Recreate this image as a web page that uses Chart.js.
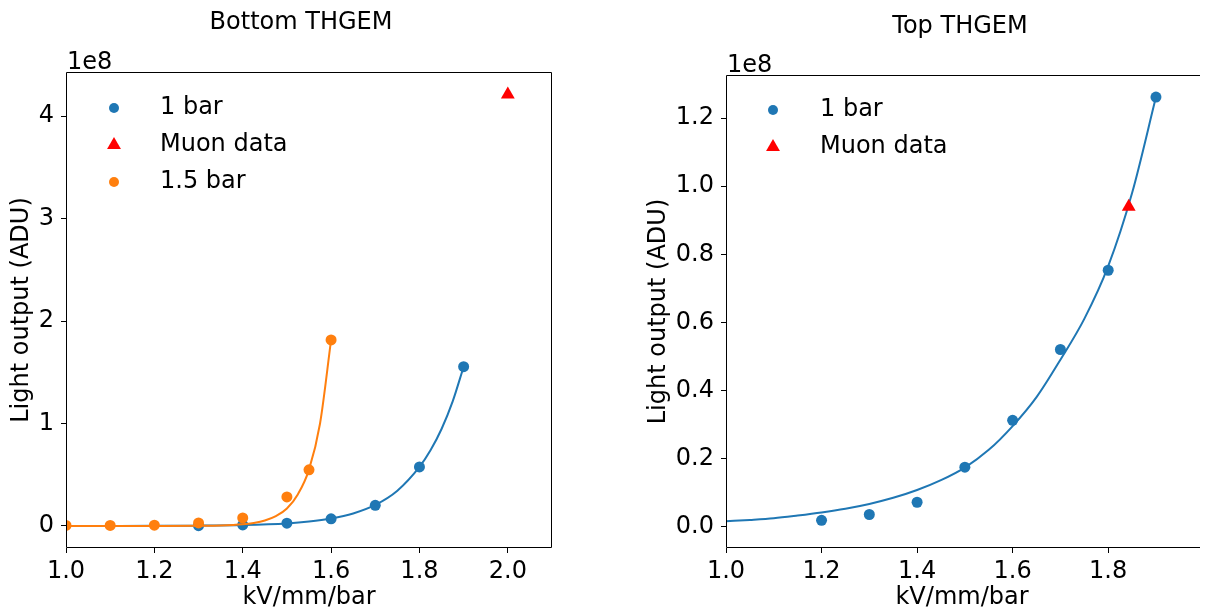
<!DOCTYPE html>
<html><head><meta charset="utf-8">
<script src="https://cdn.jsdelivr.net/npm/chart.js@4.4.0/dist/chart.umd.min.js"></script>
<style>
html,body{margin:0;padding:0;background:#fff;overflow:hidden;}
#wrap{position:relative;width:1206px;height:612px;}
.box{position:absolute;top:0;height:612px;}
</style></head><body>
<div id="wrap">
<div class="box" style="left:0;width:600px"><canvas id="c1"></canvas></div>
<div class="box" style="left:610px;width:596px"><canvas id="c2"></canvas></div>
</div>
<script>
// ---------- Bottom THGEM data ----------
const bottomX1bar = [1.3, 1.4, 1.5, 1.6, 1.7, 1.8, 1.9];
const bottomY1bar = [0.003e8, 0.010e8, 0.027e8, 0.070e8, 0.202e8, 0.576e8, 1.554e8];
const bottomXMuon = [2.0];
const bottomYMuon = [4.21e8];
const bottomX15bar = [1.0, 1.1, 1.2, 1.3, 1.4, 1.5, 1.55, 1.6];
const bottomY15bar = [0.005e8, 0.005e8, 0.008e8, 0.030e8, 0.078e8, 0.283e8, 0.548e8, 1.815e8];
const bottomFitX1bar = [1.0, 1.1, 1.2, 1.3, 1.4, 1.5, 1.55, 1.6, 1.65, 1.7, 1.75, 1.8, 1.825, 1.85, 1.875, 1.9];
const bottomFitY1bar = [0.0002e8, 0.0005e8, 0.001e8, 0.003e8, 0.009e8, 0.025e8, 0.0425e8, 0.072e8, 0.1215e8, 0.205e8, 0.344e8, 0.576e8, 0.738e8, 0.946e8, 1.213e8, 1.554e8];
const bottomFitX15bar = [1.0, 1.1, 1.2, 1.3, 1.35, 1.4, 1.425, 1.45, 1.475, 1.5, 1.525, 1.55, 1.575, 1.6];
const bottomFitY15bar = [0, 0.0001e8, 0.0003e8, 0.002e8, 0.0055e8, 0.017e8, 0.03e8, 0.053e8, 0.095e8, 0.17e8, 0.31e8, 0.55e8, 1.0e8, 1.815e8];
const bottomXTicks = [1.0, 1.2, 1.4, 1.6, 1.8, 2.0];
const bottomYTicks = [0, 1e8, 2e8, 3e8, 4e8];

// ---------- Top THGEM data ----------
const topX1bar = [1.2, 1.3, 1.4, 1.5, 1.6, 1.7, 1.8, 1.9];
const topY1bar = [0.018e8, 0.035e8, 0.071e8, 0.174e8, 0.312e8, 0.520e8, 0.753e8, 1.262e8];
const topXMuon = [1.843];
const topYMuon = [0.94e8];
const topFitX1bar = [1.0, 1.05, 1.1, 1.15, 1.2, 1.25, 1.3, 1.35, 1.4, 1.45, 1.5, 1.55, 1.6, 1.65, 1.7, 1.75, 1.8, 1.85, 1.9];
const topFitY1bar = [0.015e8, 0.019e8, 0.024e8, 0.032e8, 0.041e8, 0.052e8, 0.066e8, 0.084e8, 0.107e8, 0.136e8, 0.173e8, 0.225e8, 0.295e8, 0.38e8, 0.49e8, 0.61e8, 0.765e8, 0.98e8, 1.262e8];
const topXTicks = [1.0, 1.2, 1.4, 1.6, 1.8];
const topYTicks = [0, 0.2e8, 0.4e8, 0.6e8, 0.8e8, 1.0e8, 1.2e8];

// ---------- text ----------
const xLabel = 'kV/mm/bar';
const yLabel = 'Light output (ADU)';
const offsetText = '1e8';
const bottomTitle = 'Bottom THGEM';
const topTitle = 'Top THGEM';

const BLUE = '#1f77b4', ORANGE = '#ff7f0e', RED = '#ff0000';
const FAMILY = '"DejaVu Sans", "Liberation Sans", sans-serif';
const FS = 24;

const pts = (xs, ys) => xs.map((x, i) => ({x, y: ys[i]}));

const decor = {
  id: 'decor',
  afterDraw(chart, args, o) {
    const {ctx, chartArea: a} = chart;
    ctx.save();
    ctx.strokeStyle = '#000';
    ctx.lineWidth = 1;
    const L = Math.round(a.left) + 0.5, R = Math.round(a.right) - 0.5;
    const T = Math.round(a.top) + 0.5, B = Math.round(a.bottom) - 0.5;
    const RE = o.rightSpine ? R : a.right + 2;
    ctx.beginPath();
    ctx.moveTo(L, B); ctx.lineTo(L, T); ctx.lineTo(RE, T);
    if (o.rightSpine) ctx.lineTo(R, B);
    ctx.moveTo(L, B); ctx.lineTo(RE, B);
    ctx.stroke();
    ctx.fillStyle = '#000';
    ctx.font = FS + 'px ' + FAMILY;
    ctx.textAlign = 'center';
    ctx.textBaseline = 'alphabetic';
    ctx.fillText(o.title, o.titleX, o.titleY);
    ctx.textAlign = 'left';
    ctx.fillText(o.offset, a.left + 1, a.top - 3);
    o.legend.forEach((idx, k) => {
      const ds = chart.data.datasets[idx];
      const y = a.top + o.legendTop + k * o.legendStep;
      const x = a.left + o.legendMarkerX;
      ctx.fillStyle = ds.backgroundColor;
      Chart.helpers.drawPoint(ctx, {
        pointStyle: ds.pointStyle,
        radius: ds.pointStyle === 'triangle' ? 8 : 5,
        rotation: 0, borderWidth: 0
      }, x, y);
      ctx.fillStyle = '#000';
      ctx.textBaseline = 'middle';
      ctx.fillText(ds.label, a.left + o.legendTextX, y);
    });
    ctx.restore();
  }
};

function axisCommon(extra) {
  return Object.assign({
    type: 'linear',
    border: {display: false},
    grid: {display: true, drawOnChartArea: false, drawTicks: true, tickLength: 5, color: '#000', tickWidth: 1},
  }, extra);
}

function make(canvasId, o) {
  return new Chart(document.getElementById(canvasId), {
    type: 'scatter',
    data: {datasets: o.datasets},
    options: {
      responsive: true, maintainAspectRatio: false, animation: false,
      layout: {padding: o.padding},
      plugins: {legend: {display: false}, tooltip: {enabled: false}, title: {display: false}, decor: o.decor},
      elements: {point: {borderWidth: 0}},
      scales: {
        x: axisCommon({
          min: o.xmin, max: o.xmax,
          afterBuildTicks(s) { s.ticks = o.xticks.map(v => ({value: v})); },
          ticks: {autoSkip: false, maxRotation: 0, color: '#000', padding: 4,
                  font: {family: FAMILY, size: FS}, callback: v => v.toFixed(1)},
          title: {display: true, text: xLabel, color: '#000', font: {family: FAMILY, size: FS}, padding: {top: 0, bottom: 0}},
          afterFit(s) { s.height = 64; }
        }),
        y: axisCommon({
          min: o.ymin, max: o.ymax,
          afterBuildTicks(s) { s.ticks = o.yticks.map(v => ({value: v})); },
          ticks: {autoSkip: false, color: '#000', padding: 7,
                  font: {family: FAMILY, size: FS}, callback: v => (v / 1e8).toFixed(o.ydec)},
          title: {display: true, text: yLabel, color: '#000', font: {family: FAMILY, size: FS}, padding: {top: o.ytitlePad, bottom: 0}},
          afterFit(s) { s.width = o.yWidth; }
        })
      }
    },
    plugins: [decor]
  });
}

const scatterDs = (label, xs, ys, color, style, r, order) => ({
  label, data: pts(xs, ys), backgroundColor: color, borderColor: color,
  pointStyle: style, pointRadius: r, pointHoverRadius: r, pointBorderWidth: 0, showLine: false, order
});
const fitDs = (xs, ys, color, order) => ({
  label: 'fit', data: pts(xs, ys), borderColor: color, backgroundColor: color, borderWidth: 2,
  showLine: true, pointRadius: 0, pointHoverRadius: 0, cubicInterpolationMode: 'monotone', fill: false, order
});

make('c1', {
  datasets: [
    scatterDs('1 bar', bottomX1bar, bottomY1bar, BLUE, 'circle', 5.5, 5),
    fitDs(bottomFitX1bar, bottomFitY1bar, BLUE, 4),
    scatterDs('Muon data', bottomXMuon, bottomYMuon, RED, 'triangle', 8, 3),
    scatterDs('1.5 bar', bottomX15bar, bottomY15bar, ORANGE, 'circle', 5.5, 2),
    fitDs(bottomFitX15bar, bottomFitY15bar, ORANGE, 1)
  ],
  padding: {left: 0, right: 48, top: 72, bottom: 0},
  xmin: 1.0, xmax: 2.1, ymin: -0.215e8, ymax: 4.43e8, ydec: 0,
  xticks: bottomXTicks, yticks: bottomYTicks,
  yWidth: 66, ytitlePad: 7.5,
  decor: {rightSpine: true, title: bottomTitle, titleX: 301, titleY: 29, offset: offsetText,
          legend: [0, 2, 3], legendTop: 36, legendStep: 37, legendMarkerX: 48, legendTextX: 94}
});

make('c2', {
  datasets: [
    scatterDs('1 bar', topX1bar, topY1bar, BLUE, 'circle', 5.5, 5),
    fitDs(topFitX1bar, topFitY1bar, BLUE, 4),
    scatterDs('Muon data', topXMuon, topYMuon, RED, 'triangle', 8, 3)
  ],
  padding: {left: 0, right: 0, top: 75, bottom: 0},
  xmin: 1.0, xmax: 1.988, ymin: -0.0635e8, ymax: 1.327e8, ydec: 1,
  xticks: topXTicks, yticks: topYTicks,
  yWidth: 116, ytitlePad: 34,
  decor: {rightSpine: false, title: topTitle, titleX: 350, titleY: 33, offset: offsetText,
          legend: [0, 2], legendTop: 35, legendStep: 37, legendMarkerX: 47, legendTextX: 94}
});
</script>
</body></html>
